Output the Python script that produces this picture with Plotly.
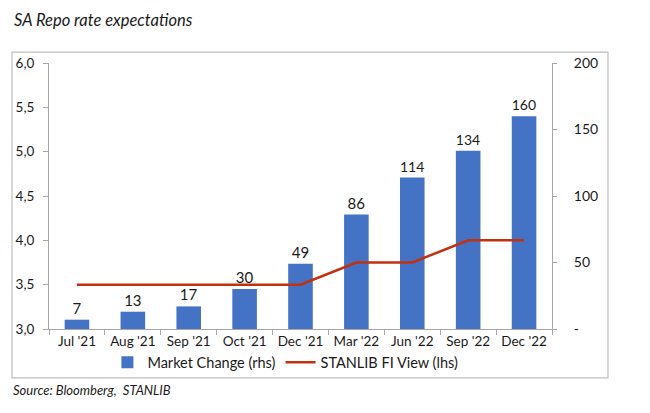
import plotly.graph_objects as go

categories = ["Jul '21", "Aug '21", "Sep '21", "Oct '21", "Dec '21", "Mar '22", "Jun '22", "Sep '22", "Dec '22"]
market_change = [7, 13, 17, 30, 49, 86, 114, 134, 160]
stanlib_view = [3.5, 3.5, 3.5, 3.5, 3.5, 3.75, 3.75, 4.0, 4.0]
lhs_ticks = [3.0, 3.5, 4.0, 4.5, 5.0, 5.5, 6.0]
lhs_labels = ["3,0", "3,5", "4,0", "4,5", "5,0", "5,5", "6,0"]
rhs_ticks = [0, 50, 100, 150, 200]
rhs_labels = ["-", "50", "100", "150", "200"]

FONT = "Lato"
AX = "#A6A6A6"

fig = go.Figure()
fig.add_trace(go.Bar(
    x=categories, y=market_change, name="Market Change (rhs)",
    marker=dict(color="#4472C4", line=dict(width=0)), width=0.44,
    text=[str(v) for v in market_change], textposition="outside",
    textfont=dict(size=15, color="#1a1a1a", family=FONT), cliponaxis=False,
    yaxis="y",
))
fig.add_trace(go.Scatter(
    x=categories, y=stanlib_view, name="STANLIB FI View (lhs)", mode="lines",
    line=dict(color="#C3300F", width=2.5), yaxis="y2",
))

fig.update_layout(
    width=650, height=413,
    margin=dict(l=49, r=98, t=63, b=84),
    paper_bgcolor="white", plot_bgcolor="white",
    font=dict(family=FONT, size=12, color="#1a1a1a"),
    showlegend=True,
    legend=dict(orientation="h", x=0.47, xanchor="center", y=-0.125, yanchor="middle",
                font=dict(size=14.5, family=FONT), itemwidth=30, tracegroupgap=0,
                bgcolor="rgba(0,0,0,0)"),
    xaxis=dict(type="category", showline=True, linecolor=AX, linewidth=1,
               ticks="outside", tickson="boundaries", ticklen=5, tickcolor=AX,
               tickfont=dict(size=13.5, family=FONT), showgrid=False, zeroline=False),
    yaxis=dict(side="right", range=[0, 200], tickvals=rhs_ticks, ticktext=rhs_labels,
               showline=True, linecolor=AX, linewidth=1, ticks="outside", ticklen=4,
               tickcolor=AX, ticklabelstandoff=14, showgrid=False, zeroline=False,
               tickfont=dict(size=14, family=FONT)),
    yaxis2=dict(side="left", overlaying="y", range=[3.0, 6.0], tickvals=lhs_ticks,
                ticktext=lhs_labels, showline=True, linecolor=AX, linewidth=1,
                ticks="outside", ticklen=5, tickcolor=AX, ticklabelstandoff=6,
                showgrid=False, zeroline=False, tickfont=dict(size=13.5, family=FONT)),
    shapes=[dict(type="rect", xref="paper", yref="paper", x0=-0.0736, x1=1.1113,
                 y0=-0.184, y1=1.041, line=dict(color="#BFBFBF", width=1.2),
                 fillcolor="rgba(0,0,0,0)", layer="below")],
    annotations=[
        dict(text="<i>SA Repo rate expectations</i>", xref="paper", yref="paper",
             x=-0.074, y=(329 - 20) / 266, xanchor="left", yanchor="middle",
             showarrow=False, font=dict(size=16.5, family=FONT, color="#1a1a1a")),
        dict(text="<i>Source: Bloomberg,  STANLIB</i>", xref="paper", yref="paper",
             x=-0.076, y=(329 - 390) / 266, xanchor="left", yanchor="middle",
             showarrow=False, font=dict(size=13, family=FONT, color="#1a1a1a")),
    ],
)

fig.write_html("out.html")
